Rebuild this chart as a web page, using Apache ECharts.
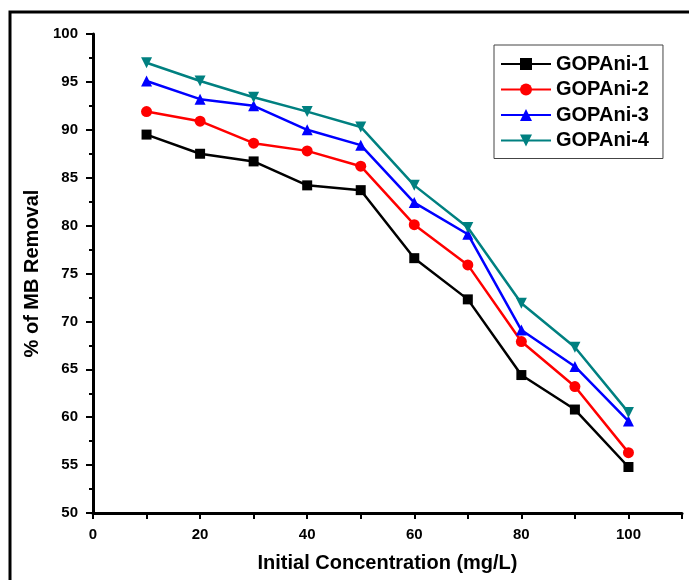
<!DOCTYPE html>
<html>
<head>
<meta charset="utf-8">
<script src="https://cdn.jsdelivr.net/npm/echarts@6/dist/echarts.min.js"></script>
<style>html,body{margin:0;padding:0;background:#fff;}#c{width:689px;height:580px;}</style>
</head>
<body>
<div id="c"></div>
<script>
const concentrations = [10, 20, 30, 40, 50, 60, 70, 80, 90, 100];
const gopani1 = [89.5, 87.5, 86.7, 84.2, 83.7, 76.6, 72.3, 64.4, 60.8, 54.8];
const gopani2 = [91.9, 90.9, 88.6, 87.8, 86.2, 80.1, 75.9, 67.9, 63.2, 56.3];
const gopani3 = [95.1, 93.2, 92.5, 90.0, 88.4, 82.4, 79.1, 69.1, 65.3, 59.6];
const gopani4 = [97.0, 95.1, 93.4, 91.9, 90.3, 84.2, 79.8, 71.9, 67.3, 60.5];
const seriesNames = ['GOPAni-1', 'GOPAni-2', 'GOPAni-3', 'GOPAni-4'];
const xLabelTicks = [0, 20, 40, 60, 80, 100];
const yLabelTicks = [50, 55, 60, 65, 70, 75, 80, 85, 90, 95, 100];

const colors = ['#000000', '#ff0000', '#0000ff', '#008080'];
const symbols = ['rect', 'circle', 'triangle', 'triangle'];
const rotates = [0, 0, 0, 180];
const allData = [gopani1, gopani2, gopani3, gopani4];

const chart = echarts.init(document.getElementById('c'), null, {renderer: 'canvas'});
const font = 'Arial, "Liberation Sans", sans-serif';
chart.setOption({
  animation: false,
  backgroundColor: '#ffffff',
  graphic: [{
    type: 'rect', shape: {x: 10, y: 12, width: 720, height: 620},
    style: {fill: 'none', stroke: '#000', lineWidth: 3}, z: 0
  }],
  grid: {left: 93, top: 34, right: 7, bottom: 67},
  legend: {
    data: seriesNames,
    orient: 'vertical',
    left: 494, top: 45,
    padding: [9, 14, 8, 6],
    itemGap: 5.5,
    itemWidth: 50, itemHeight: 15,
    borderColor: '#444', borderWidth: 1,
    textStyle: {fontFamily: font, fontWeight: 'bold', fontSize: 20, color: '#000'}
  },
  xAxis: {
    type: 'value', min: 0, max: 110, interval: 10,
    name: 'Initial Concentration (mg/L)', nameLocation: 'middle', nameGap: 40,
    nameTextStyle: {fontFamily: font, fontWeight: 'bold', fontSize: 20, color: '#000'},
    axisLine: {lineStyle: {color: '#000', width: 3}},
    axisTick: {inside: false, length: 6, lineStyle: {color: '#000', width: 2}},
    axisLabel: {
      fontFamily: font, fontWeight: 'bold', fontSize: 15, color: '#000', margin: 14,
      formatter: v => xLabelTicks.includes(v) ? String(v) : ''
    },
    splitLine: {show: false}
  },
  yAxis: {
    type: 'value', min: 50, max: 100, interval: 5,
    name: '% of MB Removal', nameLocation: 'middle', nameGap: 51,
    nameTextStyle: {fontFamily: font, fontWeight: 'bold', fontSize: 20, color: '#000'},
    axisLine: {show: true, lineStyle: {color: '#000', width: 3}},
    axisTick: {show: true, inside: false, length: 7, lineStyle: {color: '#000', width: 2}},
    minorTick: {show: true, splitNumber: 2, length: 4, lineStyle: {color: '#000', width: 2}},
    axisLabel: {
      fontFamily: font, fontWeight: 'bold', fontSize: 15, color: '#000', margin: 15,
      formatter: v => yLabelTicks.includes(v) ? String(v) : ''
    },
    splitLine: {show: false}
  },
  series: seriesNames.map((n, i) => ({
    name: n, type: 'line',
    data: concentrations.map((x, j) => [x, allData[i][j]]),
    symbol: symbols[i], symbolSize: i === 0 ? 10 : 11, symbolRotate: rotates[i],
    showAllSymbol: true,
    lineStyle: {color: colors[i], width: 2.5},
    itemStyle: {color: colors[i]},
    z: 2 + i
  }))
});
</script>
</body>
</html>
